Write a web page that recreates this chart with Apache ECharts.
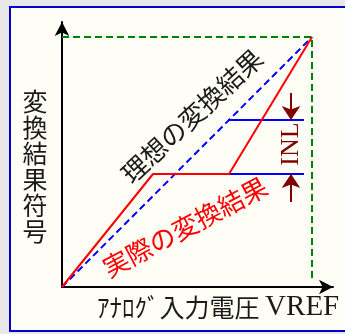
<!DOCTYPE html>
<html>
<head>
<meta charset="utf-8">
<script src="https://cdn.jsdelivr.net/npm/echarts@6/dist/echarts.min.js"></script>
<style>
  html, body { margin: 0; padding: 0; background: #e8e8e8; }
  #chart { width: 345px; height: 334px; }
</style>
</head>
<body>
<div id="chart"></div>
<script>
// full scale = 100 on both axes
const idealLine = [[0, 0], [100, 100]]
const actualLine = [[0, 0], [36.4, 45.2], [66.8, 45.2], [100, 100]]
const fullScaleBox = [[0, 100], [100, 100], [100, 3]]
const idealLevel = [[66.4, 66.8], [96.8, 66.8]]
const actualLevel = [[66.8, 45.2], [96.8, 45.2]]
const inlX = 91.6
const inlTop = [77.6, 66.8]
const inlBottom = [34, 45.2]

const myChart = echarts.init(document.getElementById('chart'), null, { renderer: 'canvas' })

const jp = '"Noto Sans CJK JP", sans-serif'
const deg = Math.PI / 180

myChart.setOption({
  animation: false,
  backgroundColor: '#e8e8e8',
  graphic: [
    {
      type: 'rect',
      z: -10,
      shape: { x: 10, y: 7, width: 345, height: 324 },
      style: { fill: '#fefef6', stroke: '#0000cc', lineWidth: 2 }
    },
    {
      type: 'text',
      x: 35,
      y: 166,
      style: {
        text: '変\n換\n結\n果\n符\n号',
        font: '25px ' + jp,
        lineHeight: 26,
        fill: '#1a1a1a',
        align: 'center',
        verticalAlign: 'middle'
      }
    },
    {
      type: 'text',
      x: 97,
      y: 307,
      style: {
        text: '{a|ｱﾅﾛｸﾞ入力電圧 }{b|VREF}',
        fill: '#1a1a1a',
        align: 'left',
        verticalAlign: 'middle',
        rich: {
          a: { font: '25px ' + jp, fill: '#1a1a1a' },
          b: { font: '29px "Liberation Serif", serif', fill: '#1a1a1a' }
        }
      }
    },
    {
      type: 'text',
      x: 192,
      y: 116,
      rotation: 43 * deg,
      style: {
        text: '理想の変換結果',
        font: '26px ' + jp,
        fill: '#1a1a1a',
        align: 'center',
        verticalAlign: 'middle'
      }
    },
    {
      type: 'text',
      x: 185,
      y: 227,
      rotation: 28 * deg,
      style: {
        text: '実際の変換結果',
        font: '26px ' + jp,
        fill: '#ff0000',
        align: 'center',
        verticalAlign: 'middle'
      }
    },
    {
      type: 'text',
      x: 291,
      y: 144,
      rotation: 90 * deg,
      style: {
        text: 'INL',
        font: '26px "Liberation Serif", serif',
        fill: '#800000',
        align: 'center',
        verticalAlign: 'middle'
      }
    }
  ],
  grid: {
    left: 62,
    right: 12,
    top: 22,
    bottom: 47
  },
  xAxis: {
    type: 'value',
    min: 0,
    max: 108.4,
    axisLine: {
      show: true,
      symbol: ['none', 'arrow'],
      symbolSize: [11, 14],
      lineStyle: { color: '#000', width: 2 }
    },
    axisTick: { show: false },
    axisLabel: { show: false },
    splitLine: { show: false }
  },
  yAxis: {
    type: 'value',
    min: 0,
    max: 106,
    axisLine: {
      show: true,
      symbol: ['none', 'arrow'],
      symbolSize: [11, 14],
      lineStyle: { color: '#000', width: 2 }
    },
    axisTick: { show: false },
    axisLabel: { show: false },
    splitLine: { show: false }
  },
  series: [
    {
      name: 'fullscale',
      type: 'line',
      data: fullScaleBox,
      symbol: 'none',
      lineStyle: { color: '#008000', width: 2, type: [7, 4] },
      z: 1
    },
    {
      name: 'ideal',
      type: 'line',
      data: idealLine,
      symbol: 'none',
      lineStyle: { color: '#0000ff', width: 2, type: [7, 4] },
      z: 2
    },
    {
      name: 'idealLevel',
      type: 'line',
      data: idealLevel,
      symbol: 'none',
      lineStyle: { color: '#0000ff', width: 2 },
      z: 2
    },
    {
      name: 'actualLevel',
      type: 'line',
      data: actualLevel,
      symbol: 'none',
      lineStyle: { color: '#0000ff', width: 2 },
      z: 2
    },
    {
      name: 'actual',
      type: 'line',
      data: actualLine,
      symbol: 'none',
      lineStyle: { color: '#ff0000', width: 2 },
      z: 3
    },
    {
      name: 'inl',
      type: 'lines',
      coordinateSystem: 'cartesian2d',
      symbol: ['none', 'arrow'],
      symbolSize: 14,
      lineStyle: { color: '#800000', width: 2, opacity: 1 },
      data: [
        { coords: [[inlX, inlTop[0]], [inlX, inlTop[1]]] },
        { coords: [[inlX, inlBottom[0]], [inlX, inlBottom[1]]] }
      ],
      z: 4
    }
  ]
})
</script>
</body>
</html>
